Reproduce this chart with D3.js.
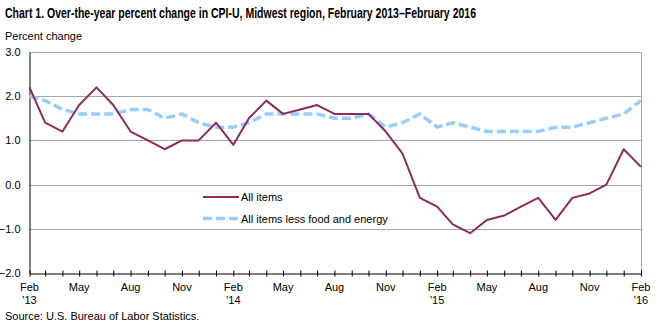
<!DOCTYPE html>
<html>
<head>
<meta charset="utf-8">
<script src="https://cdn.jsdelivr.net/npm/d3@7"></script>
<style>
  html, body { margin: 0; padding: 0; background: #fff; }
  svg { display: block; }
  text { font-family: "Liberation Sans", Arial, sans-serif; fill: #000; }
</style>
</head>
<body>
<div id="chart"></div>
<script>
const months = [
  '2013-02', '2013-03', '2013-04', '2013-05', '2013-06', '2013-07', '2013-08', '2013-09', '2013-10', '2013-11', '2013-12', '2014-01',
  '2014-02', '2014-03', '2014-04', '2014-05', '2014-06', '2014-07', '2014-08', '2014-09', '2014-10', '2014-11', '2014-12', '2015-01',
  '2015-02', '2015-03', '2015-04', '2015-05', '2015-06', '2015-07', '2015-08', '2015-09', '2015-10', '2015-11', '2015-12', '2016-01',
  '2016-02'
];

const allItems = [
  2.2, 1.4, 1.2, 1.8, 2.2, 1.8, 1.2, 1.0, 0.8, 1.0, 1.0, 1.4,
  0.9, 1.5, 1.9, 1.6, 1.7, 1.8, 1.6, 1.6, 1.6, 1.2, 0.7, -0.3,
  -0.5, -0.9, -1.1, -0.8, -0.7, -0.5, -0.3, -0.8, -0.3, -0.2, 0.0, 0.8,
  0.4
];

const lessFoodEnergy = [
  2.0, 1.9, 1.7, 1.6, 1.6, 1.6, 1.7, 1.7, 1.5, 1.6, 1.4, 1.3,
  1.3, 1.4, 1.6, 1.6, 1.6, 1.6, 1.5, 1.5, 1.6, 1.3, 1.4, 1.6,
  1.3, 1.4, 1.3, 1.2, 1.2, 1.2, 1.2, 1.3, 1.3, 1.4, 1.5, 1.6,
  1.9
];

const yTicks = [-2.0, -1.0, 0.0, 1.0, 2.0, 3.0];
const seriesNames = ['All items', 'All items less food and energy'];

const W = 659, H = 326;
const margin = { top: 52, right: 18, bottom: 53, left: 29.5 };
const width = W - margin.left - margin.right;
const height = H - margin.top - margin.bottom;

const parse = d3.timeParse('%Y-%m');
const dates = months.map(parse);

const svg = d3.select('#chart').append('svg')
  .attr('width', W)
  .attr('height', H);

// title + axis caption
svg.append('text')
  .attr('x', 5).attr('y', 18)
  .attr('textLength', 471).attr('lengthAdjust', 'spacingAndGlyphs')
  .style('font-family', '"Liberation Sans Narrow", "Arial Narrow", "Liberation Sans", sans-serif')
  .style('font-weight', 'bold').style('font-size', '14px')
  .text('Chart 1. Over-the-year percent change in CPI-U, Midwest region, February 2013\u2013February 2016');

svg.append('text')
  .attr('x', 5).attr('y', 40)
  .style('font-size', '11px')
  .text('Percent change');

svg.append('text')
  .attr('x', 5).attr('y', 320)
  .style('font-size', '11px')
  .text('Source: U.S. Bureau of Labor Statistics.');

const g = svg.append('g')
  .attr('transform', `translate(${margin.left},${margin.top})`);

const x = d3.scaleTime()
  .domain(d3.extent(dates))
  .range([0, width]);

const y = d3.scaleLinear()
  .domain([-2, 3])
  .range([height, 0]);

// gridlines
g.append('g')
  .selectAll('line')
  .data(yTicks.filter(d => d > -2))
  .join('line')
  .attr('x1', 0).attr('x2', width)
  .attr('y1', d => Math.round(y(d)) + 0.5).attr('y2', d => Math.round(y(d)) + 0.5)
  .attr('stroke', '#a6a6a6').attr('stroke-width', 1);

// right border
g.append('line')
  .attr('x1', width + 0.5).attr('x2', width + 0.5)
  .attr('y1', Math.round(y(3)) + 0.5).attr('y2', Math.round(y(-2)))
  .attr('stroke', '#a6a6a6');

// y axis
const yAxis = g.append('g')
  .call(d3.axisLeft(y).tickValues(yTicks).tickSize(0).tickPadding(9).tickFormat(d3.format('.1f')));
yAxis.select('.domain').attr('stroke', '#000');
yAxis.selectAll('text')
  .style('font-family', '"Liberation Sans", Arial, sans-serif')
  .style('font-size', '11px').attr('fill', '#000');

// x axis
const xAxis = g.append('g')
  .attr('transform', `translate(0,${Math.round(y(-2)) + 0.5})`)
  .call(d3.axisBottom(x).tickValues(dates).tickSize(0).tickFormat(''));
xAxis.select('.domain').attr('stroke', '#000');

xAxis.selectAll('.tick line')
  .attr('y1', -3).attr('y2', 3)
  .attr('stroke', '#000');

const labelDates = dates.filter((d, i) => i % 3 === 0);
const xl = g.append('g')
  .selectAll('text')
  .data(labelDates)
  .join('text')
  .attr('transform', d => `translate(${x(d)},${Math.round(y(-2)) + 18})`)
  .attr('text-anchor', 'middle')
  .style('font-size', '11px');
xl.append('tspan')
  .attr('x', 0).attr('y', 0)
  .text(d3.timeFormat('%b'));
xl.filter(d => d.getMonth() === 1).append('tspan')
  .attr('x', 0).attr('y', 12.5)
  .text(d => "'" + d3.timeFormat('%y')(d));

// series lines
const line = d3.line()
  .x((d, i) => x(dates[i]))
  .y(d => y(d));

g.append('path')
  .datum(lessFoodEnergy)
  .attr('fill', 'none')
  .attr('stroke', '#99ccff')
  .attr('stroke-width', 3.5)
  .attr('stroke-dasharray', '9,4')
  .attr('d', line);

g.append('path')
  .datum(allItems)
  .attr('fill', 'none')
  .attr('stroke', '#8c2c5c')
  .attr('stroke-width', 2)
  .attr('stroke-linejoin', 'round')
  .attr('d', line);

// legend
const legend = svg.append('g').attr('transform', 'translate(203,197)');
const legendStyles = [
  { stroke: '#8c2c5c', width: 2, dash: null },
  { stroke: '#99ccff', width: 3.5, dash: '9,4' }
];
seriesNames.forEach((name, i) => {
  const row = legend.append('g').attr('transform', `translate(0,${i * 21.5})`);
  row.append('line')
    .attr('x1', 0).attr('x2', 36)
    .attr('stroke', legendStyles[i].stroke)
    .attr('stroke-width', legendStyles[i].width)
    .attr('stroke-dasharray', legendStyles[i].dash);
  row.append('text')
    .attr('x', 38).attr('y', 4)
    .style('font-size', '11px')
    .text(name);
});
</script>
</body>
</html>
